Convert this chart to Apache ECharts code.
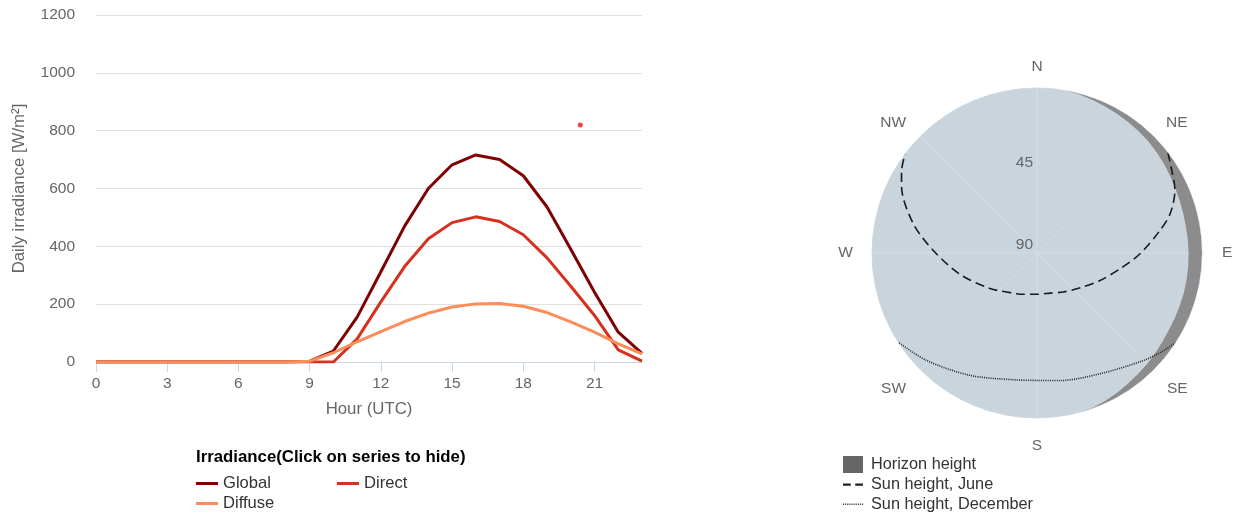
<!DOCTYPE html>
<html>
<head>
<meta charset="utf-8">
<title>Irradiance and sun path</title>
<script src="https://cdn.jsdelivr.net/npm/echarts@6/dist/echarts.min.js"></script>
<style>
  html, body { margin: 0; padding: 0; background: #ffffff; }
  #chart { width: 1233px; height: 516px; }
</style>
</head>
<body>
<div id="chart"></div>
<script>
// Hourly irradiance (W/m²) for each hour of the day, UTC
const hours = [0, 1, 2, 3, 4, 5, 6, 7, 8, 9, 10, 11, 12, 13, 14, 15, 16, 17, 18, 19, 20, 21, 22, 23];
const globalIrr  = [0, 0, 0, 0, 0, 0, 0, 0, 0, 3, 38, 155, 312, 470, 600, 682, 716, 700, 644, 536, 390, 241, 103, 30];
const directIrr  = [0, 0, 0, 0, 0, 0, 0, 0, 0, 0, 0, 80, 208, 330, 426, 482, 502, 486, 440, 360, 262, 161, 42, 3];
const diffuseIrr = [0, 0, 0, 0, 0, 0, 0, 0, 0, 3, 32, 70, 105, 140, 169, 190, 201, 202, 193, 171, 139, 103, 63, 28];
const hourTicks = [0, 3, 6, 9, 12, 15, 18, 21];
// single highlighted point
const markerDot = [[20.4, 820]];

// Horizon profile: azimuth (deg from N, clockwise) and elevation (deg)
const horizonAz   = [5, 10, 15, 20, 25, 30, 35, 40, 45, 50, 55, 60, 65, 70, 75, 80, 85, 90, 95, 100, 105, 110, 115, 120, 125, 130, 135, 140, 145, 150, 155, 160, 165];
const horizonElev = [0, 0, 0.5, 1.2, 1.9, 2.4, 3.0, 3.5, 4.0, 4.7, 5.4, 6.1, 6.7, 7.1, 7.4, 7.5, 7.4, 7.3, 7.2, 7.1, 7.0, 7.0, 6.9, 6.7, 6.2, 5.5, 4.8, 4.1, 3.2, 2.2, 1.2, 0.3, 0];

// Sun path on the June solstice
const juneAz   = [52.5, 58, 65.6, 73.6, 79.6, 90.4, 100.8, 113.6, 128, 146, 162, 180, 199, 206.5, 233, 254.5, 271.4, 283.3, 295.9, 301, 307];
const juneElev = [0, 3.5, 7.4, 14.3, 21.8, 33.8, 43.9, 52.5, 59.5, 64.3, 67, 67.5, 66.2, 65.2, 57.9, 46.4, 33.4, 20.7, 7.9, 3.8, 0];

// Sun path on the December solstice
const decAz   = [122.9, 128, 135.3, 152.5, 169.8, 180, 191, 208.7, 225.7, 237.3];
const decElev = [0, 3, 7.5, 15.7, 19.3, 20.5, 19.6, 13.9, 6.0, 0];

const compassLabels = ['N', 'NE', 'E', 'SE', 'S', 'SW', 'W', 'NW'];

const FONT = '"Liberation Sans", Arial, sans-serif';
const LABEL = '#666666';

const chart = echarts.init(document.getElementById('chart'), null, { renderer: 'canvas' });

const pairs = (xs, ys) => xs.map((x, i) => [x, ys[i]]);
const polarPairs = (az, el) => az.map((a, i) => [el[i], a]);

// per-direction text styles for the compass labels around the dial
const compassBase = { fontFamily: FONT, fontSize: 15.5, color: LABEL };
const compassRich = {
  n:  Object.assign({ lineHeight: 10 }, compassBase),
  ne: Object.assign({ lineHeight: 4, padding: [0, 0, 0, 1] }, compassBase),
  e:  Object.assign({ padding: [0, 0, 0, 4] }, compassBase),
  se: Object.assign({ lineHeight: 16, padding: [0, 0, 0, 2] }, compassBase),
  s:  Object.assign({ lineHeight: 24 }, compassBase),
  sw: Object.assign({ lineHeight: 16, padding: [0, 3, 0, 0] }, compassBase),
  w:  Object.assign({ padding: [0, 3, 0, 0] }, compassBase),
  nw: Object.assign({ lineHeight: 4, padding: [0, 3, 0, 0] }, compassBase)
};

const option = {
  animation: false,
  backgroundColor: '#ffffff',
  textStyle: { fontFamily: FONT },
  title: {
    text: 'Irradiance(Click on series to hide)',
    left: 196,
    top: 449,
    padding: 0,
    textStyle: { fontFamily: FONT, fontSize: 16.8, fontWeight: 'bold', color: '#000000' }
  },
  legend: [
    {
      data: [
        { name: 'Global', icon: 'path://M0,0h22v3h-22z' },
        { name: 'Direct', icon: 'path://M0,0h22v3h-22z' }
      ],
      left: 196, top: 475, padding: 0,
      itemWidth: 22, itemHeight: 14, itemGap: 66,
      textStyle: { fontFamily: FONT, fontSize: 16.6, color: '#333333' }
    },
    {
      data: [{ name: 'Diffuse', icon: 'path://M0,0h22v3h-22z' }],
      left: 196, top: 495, padding: 0,
      itemWidth: 22, itemHeight: 14,
      textStyle: { fontFamily: FONT, fontSize: 16.6, color: '#333333' }
    },
    {
      data: [
        { name: 'Horizon height', icon: 'rect' },
        { name: 'Sun height, June', icon: 'path://M0,0h7v2h-7zM11,0h7v2h-7z' },
        { name: 'Sun height, December', icon: 'path://M0,0h1v1.4h-1zM2,0h1v1.4h-1zM4,0h1v1.4h-1zM6,0h1v1.4h-1zM8,0h1v1.4h-1zM10,0h1v1.4h-1zM12,0h1v1.4h-1zM14,0h1v1.4h-1zM16,0h1v1.4h-1zM18,0h1v1.4h-1z' }
      ],
      orient: 'vertical',
      left: 843, top: 456, padding: 0,
      itemWidth: 20, itemHeight: 17, itemGap: 3.6,
      textStyle: { fontFamily: FONT, fontSize: 16.3, color: '#333333', padding: [0, 0, 0, 3] }
    }
  ],
  grid: { left: 96, top: 15, width: 546, height: 347 },
  xAxis: {
    type: 'value',
    min: 0,
    max: 23,
    name: 'Hour (UTC)',
    nameLocation: 'middle',
    nameGap: 39,
    nameTextStyle: { fontFamily: FONT, fontSize: 16.8, color: LABEL },
    axisLine: { show: true, lineStyle: { color: '#ccd6eb', width: 1 } },
    axisTick: { show: true, length: 10, customValues: hourTicks, lineStyle: { color: '#ccd6eb' } },
    axisLabel: { customValues: hourTicks, margin: 14, fontFamily: FONT, fontSize: 15.5, color: LABEL },
    splitLine: { show: false }
  },
  yAxis: {
    type: 'value',
    min: 0,
    max: 1200,
    interval: 200,
    name: 'Daily irradiance [W/m²]',
    nameLocation: 'middle',
    nameGap: 68,
    nameTextStyle: { fontFamily: FONT, fontSize: 16.8, color: LABEL },
    axisLine: { show: false },
    axisTick: { show: false },
    axisLabel: { margin: 21, fontFamily: FONT, fontSize: 15.5, color: LABEL, formatter: v => String(v) },
    splitLine: { lineStyle: { color: '#e0e0e0', width: 1 } }
  },
  polar: { center: [1037, 253], radius: 165 },
  angleAxis: {
    type: 'value',
    min: 0,
    max: 360,
    interval: 45,
    startAngle: 90,
    clockwise: true,
    axisLine: { show: false },
    axisTick: { show: false },
    axisLabel: {
      margin: 16,
      fontFamily: FONT, fontSize: 15.5, color: LABEL,
      formatter: v => {
        const name = compassLabels[Math.round(v / 45) % 8];
        return '{' + name.toLowerCase() + '|' + name + '}';
      },
      rich: compassRich
    },
    splitLine: { show: true, lineStyle: { color: '#d6dee5', width: 1 } }
  },
  radiusAxis: {
    type: 'value',
    min: 0,
    max: 90,
    interval: 45,
    inverse: true,
    axisLine: { show: false },
    axisTick: { show: false },
    axisLabel: {
      margin: 4,
      verticalAlign: 'bottom',
      fontFamily: FONT, fontSize: 15.5, color: LABEL,
      formatter: v => (v === 0 ? '' : String(v))
    },
    splitLine: { show: true, lineStyle: { color: '#d6dee5', width: 1 } },
    splitArea: { show: true, areaStyle: { color: ['#c9d4dd'], opacity: 1 } }
  },
  series: [
    {
      name: 'Global', type: 'line', data: pairs(hours, globalIrr),
      symbol: 'none', color: '#7f0000',
      lineStyle: { width: 3, color: '#7f0000' }, itemStyle: { color: '#7f0000' }, z: 2
    },
    {
      name: 'Direct', type: 'line', data: pairs(hours, directIrr),
      symbol: 'none', color: '#d7301f',
      lineStyle: { width: 3, color: '#d7301f' }, itemStyle: { color: '#d7301f' }, z: 3
    },
    {
      name: 'Diffuse', type: 'line', data: pairs(hours, diffuseIrr),
      symbol: 'none', color: '#fc8d59',
      lineStyle: { width: 3, color: '#fc8d59' }, itemStyle: { color: '#fc8d59' }, z: 4
    },
    {
      name: 'point', type: 'scatter', data: markerDot,
      symbol: 'circle', symbolSize: 5, silent: true,
      itemStyle: { color: '#e8101a' }, z: 5
    },
    {
      name: 'Horizon height', type: 'line', coordinateSystem: 'polar',
      data: polarPairs(horizonAz, horizonElev),
      symbol: 'none', silent: true,
      lineStyle: { width: 0 },
      itemStyle: { color: '#666666' },
      areaStyle: { color: '#8c8c8c', opacity: 1 },
      z: 2
    },
    {
      name: 'Sun height, June', type: 'line', coordinateSystem: 'polar',
      data: polarPairs(juneAz, juneElev),
      symbol: 'none', smooth: 0.3, silent: true,
      itemStyle: { color: '#222222' },
      lineStyle: { color: '#1a1a1a', width: 1.6, type: [9, 5] },
      z: 3
    },
    {
      name: 'Sun height, December', type: 'line', coordinateSystem: 'polar',
      data: polarPairs(decAz, decElev),
      symbol: 'none', smooth: 0.3, silent: true,
      itemStyle: { color: '#333333' },
      lineStyle: { color: '#222222', width: 1.6, type: [1, 1.2] },
      z: 3
    }
  ]
};

chart.setOption(option);
</script>
</body>
</html>
